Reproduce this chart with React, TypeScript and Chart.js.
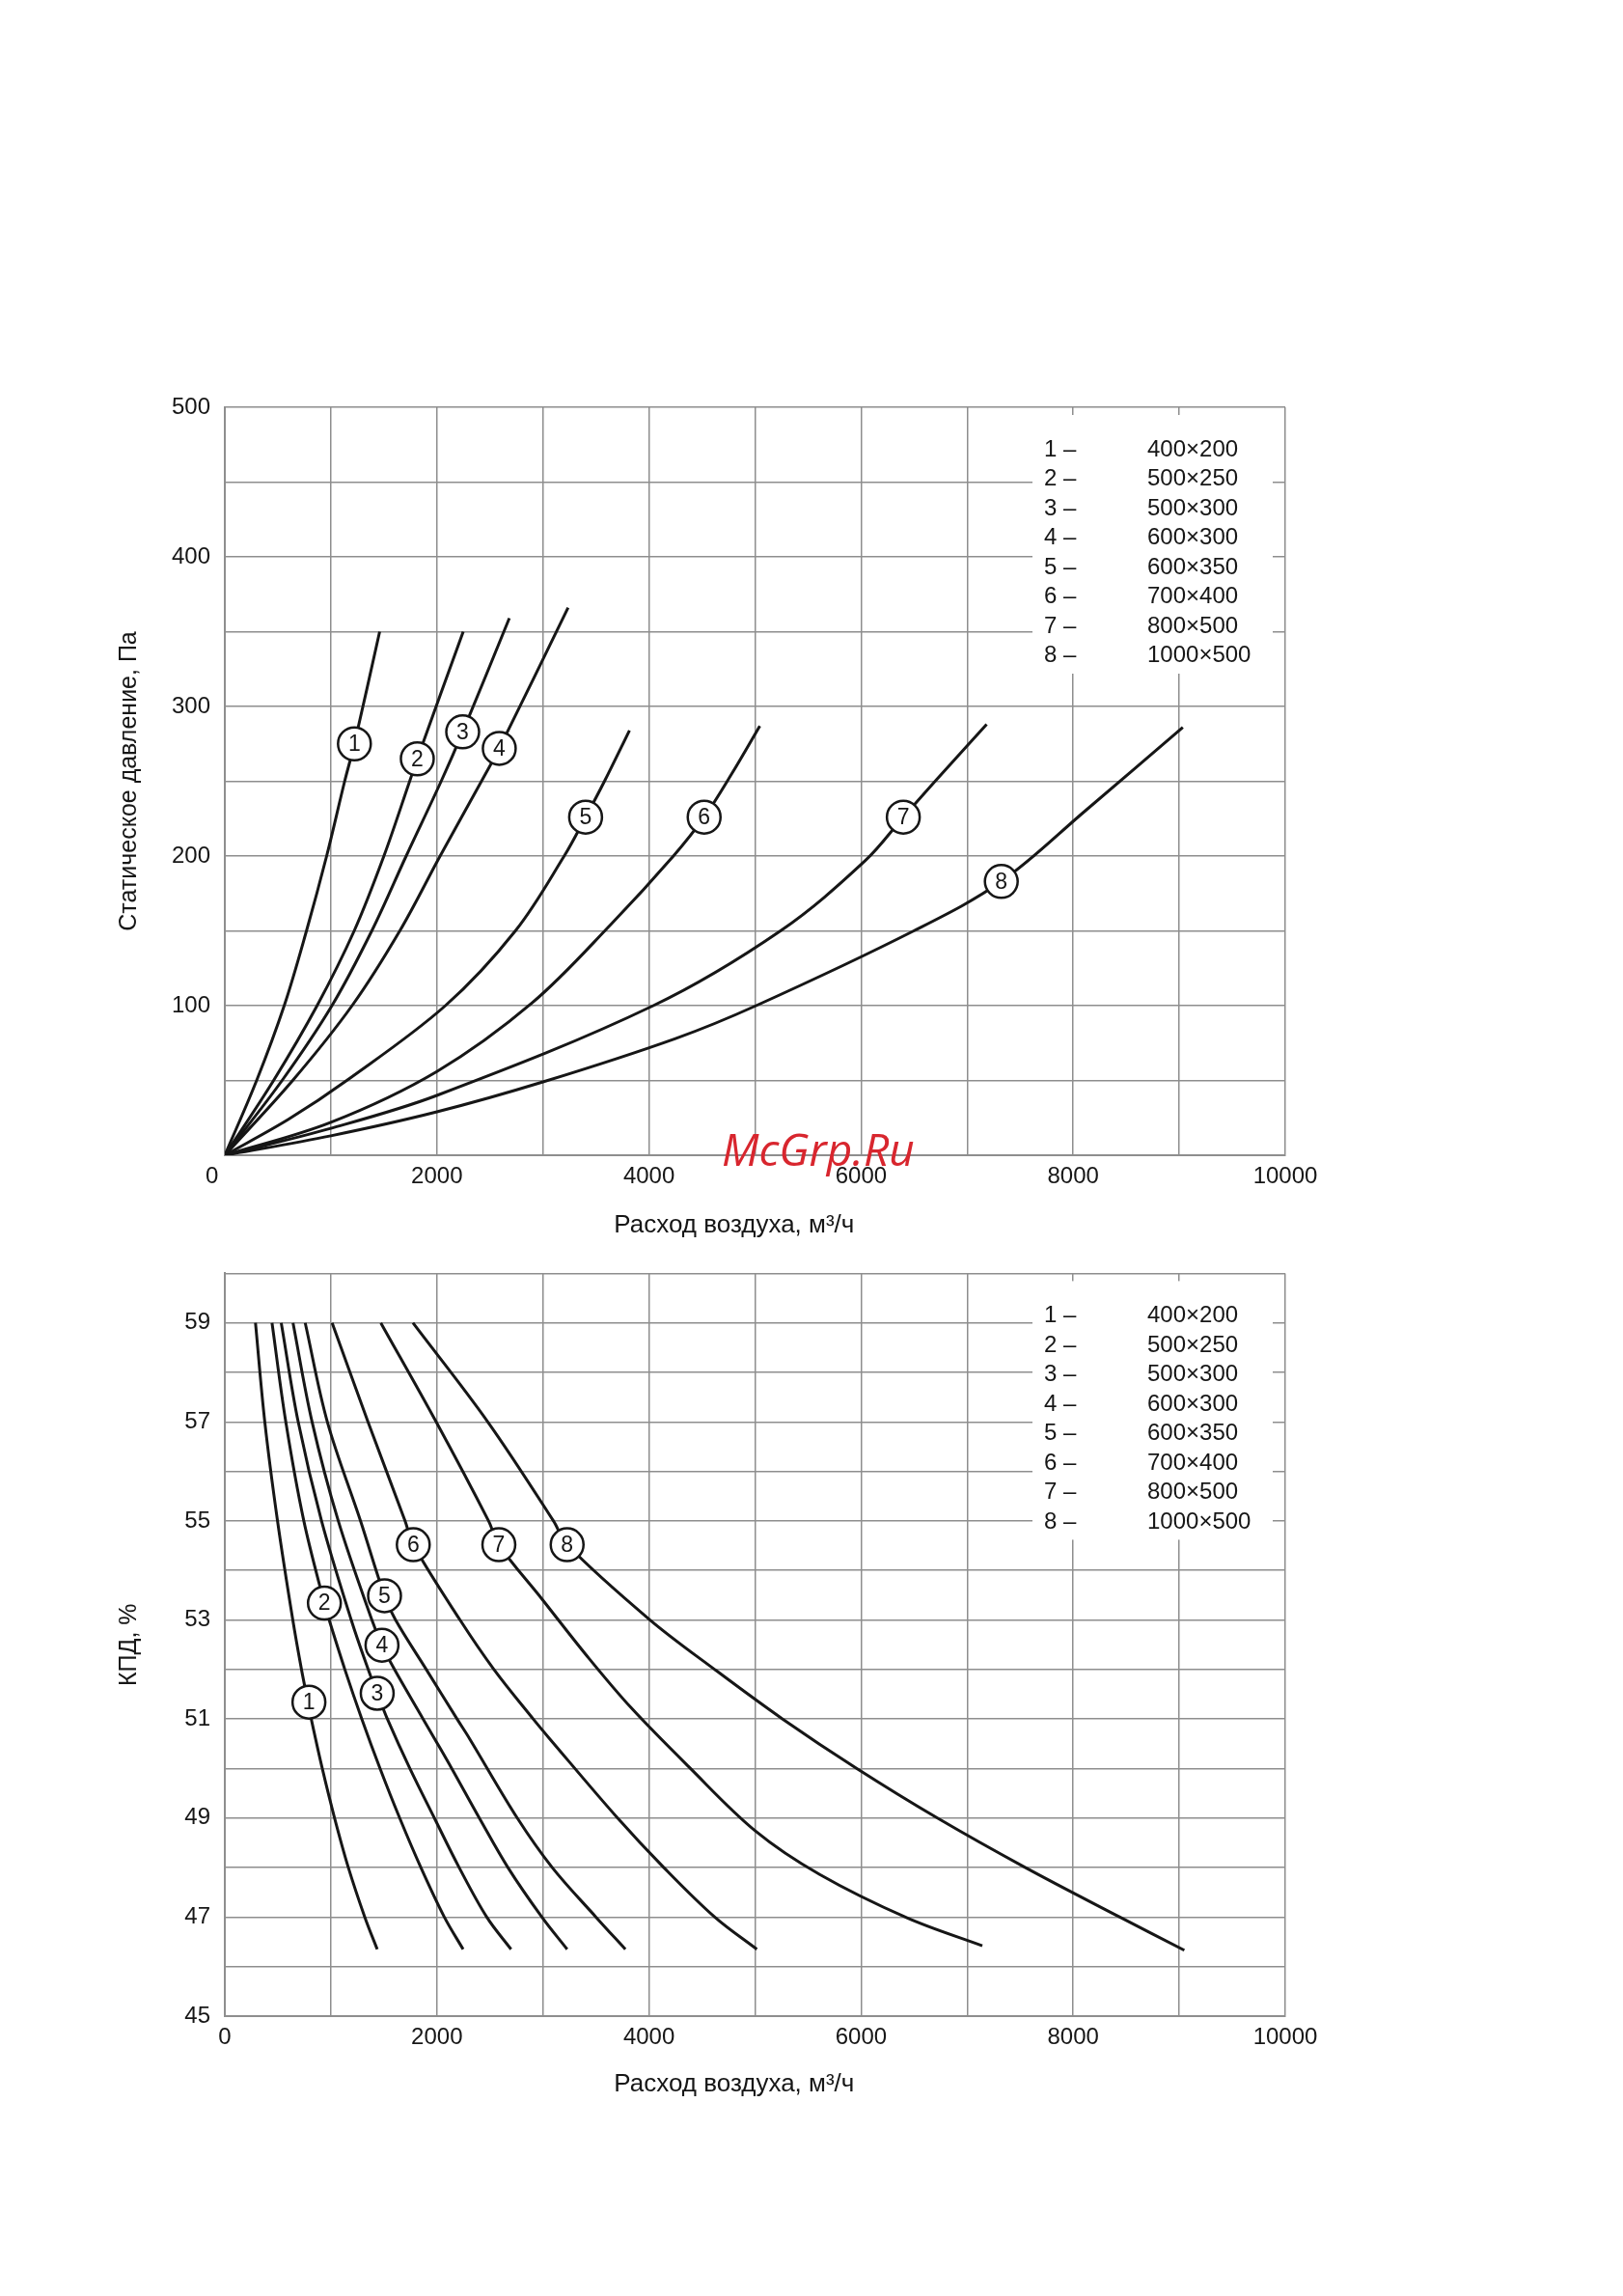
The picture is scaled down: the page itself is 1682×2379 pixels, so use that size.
import React, { useEffect, useRef, useState } from "react";
import { Chart, registerables } from "chart.js";

Chart.register(...registerables);

// ---------- shared ----------
const curveIds = ["1", "2", "3", "4", "5", "6", "7", "8"];
const sizeNames = ["400×200", "500×250", "500×300", "600×300", "600×350", "700×400", "800×500", "1000×500"];
const flowTickLabels = [0, 2000, 4000, 6000, 8000, 10000];
const paTickLabels = [100, 200, 300, 400, 500];
const kpdTickLabels = [45, 47, 49, 51, 53, 55, 57, 59];

// ---------- chart 1: static pressure, Pa vs air flow, m3/h ----------
const pFlow1 = [0, 300, 560, 770, 960, 1130, 1222, 1460];
const pPa1 = [0, 50, 100, 150, 200, 250, 275, 350];
const pFlow2 = [0, 460, 870, 1220, 1500, 1743, 1815, 2248];
const pPa2 = [0, 50, 100, 150, 200, 250, 265, 350];
const pFlow3 = [0, 540, 1010, 1386, 1710, 2040, 2243, 2683];
const pPa3 = [0, 50, 100, 150, 200, 250, 283, 359];
const pFlow4 = [0, 640, 1200, 1650, 2030, 2420, 2588, 3237];
const pPa4 = [0, 50, 100, 150, 200, 250, 272, 366];
const pFlow5 = [0, 600, 1150, 2080, 2740, 3200, 3402, 3580, 3816];
const pPa5 = [0, 24, 50, 100, 150, 200, 226, 250, 284];
const pFlow6 = [0, 1000, 2000, 2900, 3650, 4230, 4520, 4780, 5045];
const pPa6 = [0, 22, 56, 102, 155, 200, 226, 255, 287];
const pFlow7 = [0, 1000, 2000, 4040, 5240, 6040, 6398, 6710, 7184];
const pPa7 = [0, 18, 40, 100, 150, 197, 226, 251, 288];
const pFlow8 = [0, 1000, 2000, 3000, 4250, 5010, 6497, 7322, 8110, 9034];
const pPa8 = [0, 13, 29, 49, 78, 100, 150, 183, 230, 286];
const pLabelFlow = [1222, 1815, 2243, 2588, 3402, 4520, 6398, 7322];
const pLabelPa = [275, 265, 283, 272, 226, 226, 226, 183];

// ---------- chart 2: efficiency, % vs air flow, m3/h ----------
const eFlow1 = [289, 377, 497, 641, 723, 784, 815, 919, 1035, 1165, 1320, 1437];
const eKpd1 = [59, 57, 55, 53, 52, 51.34, 51, 50, 49, 48, 47, 46.35];
const eFlow2 = [445, 575, 745, 938, 984, 1132, 1292, 1464, 1649, 1849, 2070, 2247];
const eKpd2 = [59, 57, 55, 53.34, 53, 52, 51, 50, 49, 48, 47, 46.35];
const eFlow3 = [532, 692, 912, 1192, 1352, 1437, 1533, 1745, 1976, 2210, 2470, 2699];
const eKpd3 = [59, 57, 55, 53, 52, 51.52, 51, 50, 49, 48, 47, 46.35];
const eFlow4 = [643, 823, 1070, 1387, 1482, 1600, 1870, 1976, 2140, 2400, 2670, 2990, 3228];
const eKpd4 = [59, 57, 55, 53, 52.49, 52, 51, 50.61, 50, 49, 48, 47, 46.35];
const eFlow5 = [758, 967, 1280, 1506, 1610, 1900, 2190, 2306, 2758, 3088, 3500, 3777];
const eKpd5 = [59, 57, 55, 53.49, 53, 52, 51, 50.61, 49, 48, 47, 46.35];
const eFlow6 = [1012, 1350, 1700, 1777, 2218, 2538, 2908, 3060, 3704, 4140, 4620, 5017];
const eKpd6 = [59, 57, 55, 54.52, 53, 52, 51, 50.61, 49, 48, 47, 46.35];
const eFlow7 = [1471, 1993, 2487, 2584, 2988, 3420, 3830, 4368, 5003, 5610, 6438, 7143];
const eKpd7 = [59, 57, 55, 54.52, 53.43, 52.26, 51.23, 50.05, 48.74, 47.86, 46.98, 46.42];
const eFlow8 = [1774, 2480, 3099, 3228, 4010, 4620, 5260, 5960, 6720, 7550, 8440, 9048];
const eKpd8 = [59, 57, 55, 54.52, 53, 52, 51, 50, 49, 48, 47, 46.33];
const eLabelFlow = [793, 939, 1437, 1482, 1506, 1777, 2584, 3228];
const eLabelKpd = [51.34, 53.34, 51.52, 52.49, 53.49, 54.52, 54.52, 54.52];

const FONT = '"Liberation Sans", Arial, Helvetica, sans-serif';
const TEXT = "#161616";
const GRID = "#8e8e8e";
const LINE = "#161616";
const FIG = "\u2007";

function toPoints(xs: number[], ys: number[]) {
  return xs.map((x, i) => ({ x, y: ys[i] }));
}

const legendPlugin = {
  id: "boxLegend",
  beforeDatasetsDraw(chart: any) {
    const { ctx, chartArea } = chart;
    ctx.save();
    ctx.fillStyle = "#ffffff";
    ctx.fillRect(chartArea.right - 262, chartArea.top + 8, 249, 268);
    ctx.fillStyle = TEXT;
    ctx.font = `24px ${FONT}`;
    ctx.textBaseline = "middle";
    ctx.textAlign = "left";
    curveIds.forEach((id, i) => {
      const y = chartArea.top + 44 + i * 30.5;
      ctx.fillText(`${id} –`, chartArea.right - 250, y);
      ctx.fillText(sizeNames[i], chartArea.right - 143, y);
    });
    ctx.restore();
  },
};

function makeCirclePlugin(xs: number[], ys: number[]) {
  return {
    id: "circleLabels",
    afterDatasetsDraw(chart: any) {
      const { ctx } = chart;
      const xS = chart.scales.x;
      const yS = chart.scales.y;
      ctx.save();
      xs.forEach((v, i) => {
        const px = xS.getPixelForValue(v);
        const py = yS.getPixelForValue(ys[i]);
        ctx.beginPath();
        ctx.arc(px, py, 17, 0, Math.PI * 2);
        ctx.fillStyle = "#ffffff";
        ctx.fill();
        ctx.lineWidth = 2.5;
        ctx.strokeStyle = LINE;
        ctx.stroke();
        ctx.fillStyle = TEXT;
        ctx.font = `23px ${FONT}`;
        ctx.textAlign = "center";
        ctx.textBaseline = "middle";
        ctx.fillText(curveIds[i], px, py + 1);
      });
      ctx.restore();
    },
  };
}

function buildDatasets(series: { x: number; y: number }[][]) {
  return series.map((data, i) => ({
    label: curveIds[i],
    data,
    borderColor: LINE,
    borderWidth: 3,
    pointRadius: 0,
    fill: false,
    tension: 0.35,
  }));
}

type Cfg = {
  datasets: any[];
  yMin: number;
  yMax: number;
  yStep: number;
  yLabels: number[];
  yTitle: string;
  padTop: number;
  xAxisHeight: number;
  xTitlePad: number;
  shiftZero: boolean;
  labelXs: number[];
  labelYs: number[];
};

function makeConfig(c: Cfg): any {
  return {
    type: "scatter",
    data: { datasets: c.datasets },
    plugins: [legendPlugin, makeCirclePlugin(c.labelXs, c.labelYs)],
    options: {
      responsive: false,
      maintainAspectRatio: false,
      animation: false,
      devicePixelRatio: 1,
      showLine: true,
      layout: { padding: { left: 0, right: 68, top: c.padTop, bottom: 0 } },
      plugins: { legend: { display: false }, tooltip: { enabled: false } },
      scales: {
        x: {
          type: "linear",
          min: 0,
          max: 10000,
          afterFit: (s: any) => {
            s.height = c.xAxisHeight;
          },
          ticks: {
            stepSize: 1000,
            autoSkip: false,
            maxRotation: 0,
            padding: 8,
            color: TEXT,
            font: { size: 24, family: FONT },
            callback: (v: any) => {
              const n = Number(v);
              if (flowTickLabels.indexOf(n) < 0) return "";
              if (n === 0 && c.shiftZero) return "0" + FIG + FIG;
              return String(n);
            },
          },
          grid: { color: GRID, lineWidth: 1.5, drawTicks: false },
          border: { color: GRID, width: 2 },
          title: {
            display: true,
            text: "Расход воздуха, м³/ч" + FIG + FIG + FIG,
            color: TEXT,
            font: { size: 26, family: FONT },
            padding: { top: 0, bottom: c.xTitlePad },
          },
        },
        y: {
          type: "linear",
          min: c.yMin,
          max: c.yMax,
          afterFit: (s: any) => {
            s.width = 233;
          },
          ticks: {
            stepSize: c.yStep,
            autoSkip: false,
            padding: 15,
            color: TEXT,
            font: { size: 24, family: FONT },
            callback: (v: any) => (c.yLabels.indexOf(Number(v)) >= 0 ? String(v) : ""),
          },
          grid: { color: GRID, lineWidth: 1.5, drawTicks: false },
          border: { color: GRID, width: 2 },
          title: {
            display: true,
            text: c.yTitle,
            color: TEXT,
            font: { size: 25, family: FONT },
            padding: { top: 119, bottom: 0 },
          },
        },
      },
    },
  };
}

function ChartCanvas({ cfg, top, height }: { cfg: Cfg; top: number; height: number }) {
  const ref = useRef<HTMLCanvasElement | null>(null);
  const [err, setErr] = useState<string>("");
  useEffect(() => {
    if (!ref.current) return;
    let chart: any = null;
    try {
      chart = new Chart(ref.current, makeConfig(cfg));
    } catch (e: any) {
      setErr(String(e && e.stack ? e.stack : e));
    }
    return () => {
      if (chart) chart.destroy();
    };
  }, []);
  return (
    <>
      <canvas
        ref={ref}
        width={1400}
        height={height}
        style={{ position: "absolute", left: -8, top, width: 1400, height }}
      />
      {err ? (
        <pre style={{ position: "absolute", left: 20, top: top + 20, color: "red", fontSize: 16 }}>{err}</pre>
      ) : null}
    </>
  );
}

export default function App() {
  const pressureCfg: Cfg = {
    datasets: buildDatasets([
      toPoints(pFlow1, pPa1),
      toPoints(pFlow2, pPa2),
      toPoints(pFlow3, pPa3),
      toPoints(pFlow4, pPa4),
      toPoints(pFlow5, pPa5),
      toPoints(pFlow6, pPa6),
      toPoints(pFlow7, pPa7),
      toPoints(pFlow8, pPa8),
    ]),
    yMin: 0,
    yMax: 500,
    yStep: 50,
    yLabels: paTickLabels,
    yTitle: "Статическое давление, Па",
    padTop: 42,
    xAxisHeight: 93,
    xTitlePad: 5,
    shiftZero: true,
    labelXs: pLabelFlow,
    labelYs: pLabelPa,
  };
  const kpdCfg: Cfg = {
    datasets: buildDatasets([
      toPoints(eFlow1, eKpd1),
      toPoints(eFlow2, eKpd2),
      toPoints(eFlow3, eKpd3),
      toPoints(eFlow4, eKpd4),
      toPoints(eFlow5, eKpd5),
      toPoints(eFlow6, eKpd6),
      toPoints(eFlow7, eKpd7),
      toPoints(eFlow8, eKpd8),
    ]),
    yMin: 45,
    yMax: 60,
    yStep: 1,
    yLabels: kpdTickLabels,
    yTitle: "КПД, %",
    padTop: 25,
    xAxisHeight: 121,
    xTitlePad: 35,
    shiftZero: false,
    labelXs: eLabelFlow,
    labelYs: eLabelKpd,
  };
  return (
    <div style={{ position: "relative", width: 1666, height: 2300 }}>
      <ChartCanvas cfg={pressureCfg} top={372} height={910} />
      <ChartCanvas cfg={kpdCfg} top={1282} height={920} />
      <div
        style={{
          position: "absolute",
          left: 740,
          top: 1158,
          fontFamily: '"Open Sans", "Liberation Sans", sans-serif',
          fontStyle: "italic",
          fontSize: 46,
          color: "#d8262e",
          lineHeight: "48px",
          pointerEvents: "none",
        }}
      >
        McGrp.Ru
      </div>
    </div>
  );
}
